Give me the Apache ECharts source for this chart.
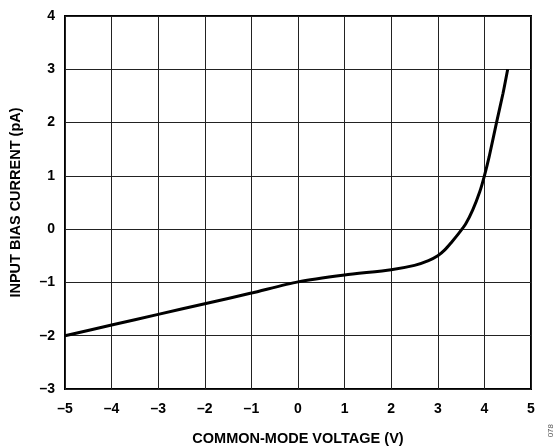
<!DOCTYPE html>
<html><head><meta charset="utf-8">
<script src="https://cdn.jsdelivr.net/npm/echarts@6/dist/echarts.min.js"></script>
<style>html,body{margin:0;padding:0;background:#fff}#c{width:559px;height:446px}</style>
</head><body><div id="c"></div>
<script>
var voltage = [-5, -4, -3, -2, -1, 0, 1, 2, 2.5, 2.8, 3.0, 3.15, 3.3, 3.45, 3.6, 3.75, 3.9, 4.0, 4.1, 4.26, 4.4, 4.5];
var biasCurrent = [-2.0, -1.8, -1.6, -1.4, -1.2, -0.99, -0.86, -0.76, -0.68, -0.59, -0.5, -0.39, -0.24, -0.08, 0.1, 0.36, 0.7, 1.0, 1.35, 2.0, 2.55, 3.0];
var xTitle = 'COMMON-MODE VOLTAGE (V)';
var yTitle = 'INPUT BIAS CURRENT (pA)';
var fmt = function (v) { return v < 0 ? '\u2013' + Math.abs(v) : String(v); };
var chart = echarts.init(document.getElementById('c'));
var font = {fontFamily: 'Liberation Sans, Arial, sans-serif', fontWeight: 'bold', fontSize: 14, color: '#000'};
chart.setOption({
  animation: false,
  grid: {left: 65, top: 16, right: 28, bottom: 57, containLabel: false, outerBoundsMode: 'none', show: true, borderColor: '#000', borderWidth: 2, backgroundColor: 'transparent'},
  xAxis: {
    type: 'value', min: -5, max: 5, interval: 1,
    axisLine: {show: false}, axisTick: {show: false},
    axisLabel: Object.assign({formatter: fmt, margin: 13}, font),
    splitLine: {show: true, lineStyle: {color: '#222', width: 1}},
    name: xTitle, nameLocation: 'middle', nameGap: 42,
    nameTextStyle: Object.assign({}, font, {fontSize: 14.5})
  },
  yAxis: {
    type: 'value', min: -3, max: 4, interval: 1,
    axisLine: {show: false}, axisTick: {show: false},
    axisLabel: Object.assign({formatter: fmt, margin: 10}, font),
    splitLine: {show: true, lineStyle: {color: '#222', width: 1}},
    name: yTitle, nameLocation: 'middle', nameGap: 42, nameRotate: 90,
    nameTextStyle: Object.assign({}, font, {fontSize: 14.5})
  },
  series: [{
    type: 'line', smooth: 0.25, symbol: 'none',
    data: voltage.map(function (v, i) { return [v, biasCurrent[i]]; }),
    lineStyle: {color: '#000', width: 3}
  }],
  graphic: [{
    type: 'text', left: 547, top: 424, rotation: Math.PI / 2,
    style: {text: '078', fill: '#555', font: '8px Liberation Sans, Arial, sans-serif'}
  }]
});
</script></body></html>
